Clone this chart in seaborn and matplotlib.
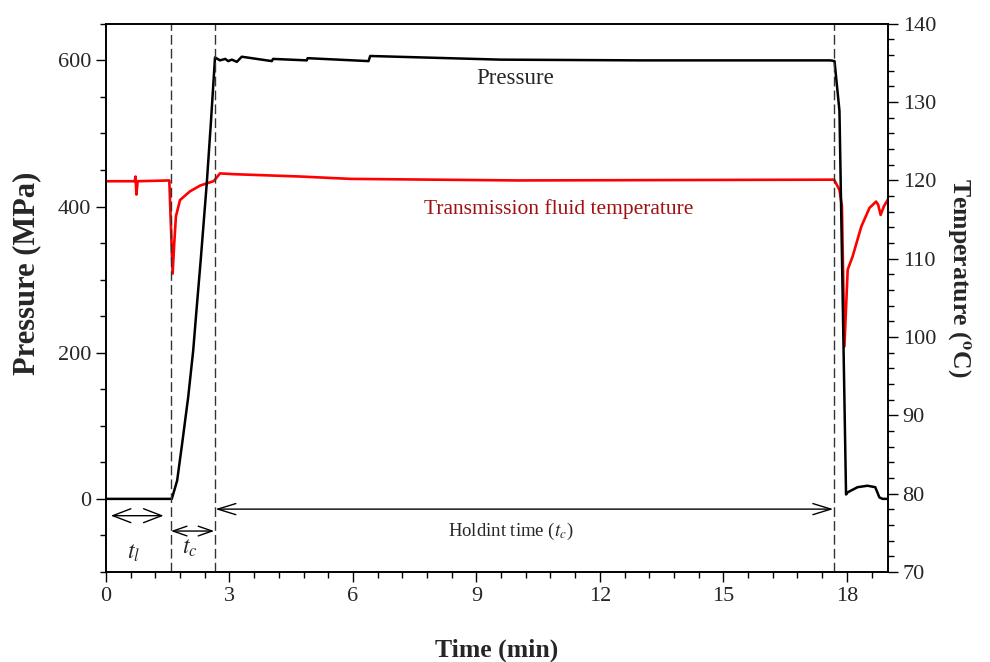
import matplotlib
matplotlib.use("Agg")
import matplotlib.pyplot as plt
from matplotlib.ticker import MultipleLocator
import pandas as pd
import seaborn as sns

# pressure trace (MPa) vs time (min)
p_time = [0.0, 1.60, 1.73, 1.85, 2.00, 2.12, 2.21, 2.30, 2.45, 2.55, 2.65,
          2.77, 2.90, 2.97, 3.06, 3.18, 3.30, 4.03, 4.06, 4.88, 4.90, 6.38, 6.42,
          9.59, 13.0, 17.60, 17.70, 17.82, 17.90, 17.98, 18.02, 18.26, 18.50,
          18.69, 18.79, 18.87, 19.0]
pressure = [0, 0, 25, 75, 140, 203, 265, 325, 432, 515, 604,
            600, 602, 599, 601, 598, 605, 599, 602, 600, 603, 599, 606,
            601, 600, 600, 599, 531, 270, 6, 9, 16, 18,
            16, 2, 0, 0]

# transmission fluid temperature (C) vs time (min)
t_time = [0.0, 0.70, 0.72, 0.74, 0.77, 1.54, 1.58, 1.62, 1.66, 1.70, 1.80, 2.04,
          2.29, 2.61, 2.65, 2.77, 3.10, 4.72, 5.94, 10.0, 17.69, 17.82, 17.88,
          17.94, 18.02, 18.14, 18.35, 18.55, 18.71, 18.76, 18.82, 18.90, 19.0]
temperature = [119.9, 119.9, 120.5, 118.2, 119.9, 120.0, 114.0, 108.1, 112.0,
               115.4, 117.5, 118.6, 119.35, 119.9, 120.1, 120.9, 120.8, 120.5,
               120.2, 120.0, 120.1, 118.8, 116.7, 98.8, 108.6, 110.3, 114.1,
               116.5, 117.3, 116.9, 115.6, 116.7, 117.6]

event_times = [1.58, 2.65, 17.69]

sns.set_style("ticks")
plt.rcParams["font.family"] = ["Liberation Serif", "DejaVu Serif"]
plt.rcParams["mathtext.fontset"] = "stix"

df_p = pd.DataFrame({"time": p_time, "pressure": pressure})
df_t = pd.DataFrame({"time": t_time, "temperature": temperature})

fig = plt.figure(figsize=(9.9, 6.62), dpi=100)
ax = fig.add_axes([0.107, 0.136, 0.790, 0.828])
ax2 = ax.twinx()
ax.set_zorder(ax2.get_zorder() + 1)
ax.patch.set_visible(False)

sns.lineplot(data=df_t, x="time", y="temperature", ax=ax2, color="red",
             lw=1.9, sort=False, estimator=None)
sns.lineplot(data=df_p, x="time", y="pressure", ax=ax, color="black",
             lw=1.8, sort=False, estimator=None)

for t in event_times:
    ax.axvline(t, color="#333333", lw=1, ls=(0, (7, 3)))

ax.set_xlim(0, 19)
ax.set_ylim(-100, 650)
ax2.set_ylim(70, 140)

ax.xaxis.set_major_locator(MultipleLocator(3))
ax.xaxis.set_minor_locator(MultipleLocator(0.6))
ax.yaxis.set_major_locator(MultipleLocator(200))
ax.yaxis.set_minor_locator(MultipleLocator(50))
ax2.yaxis.set_major_locator(MultipleLocator(10))
ax2.yaxis.set_minor_locator(MultipleLocator(2))

for a in (ax, ax2):
    a.tick_params(which="major", direction="out", length=7, width=1,
                  labelsize=16, color="black")
    a.tick_params(which="minor", direction="out", length=4, width=1,
                  color="black")
    for s in a.spines.values():
        s.set_linewidth(1.2)
        s.set_color("black")

ax.set_xlabel("Time (min)", fontsize=18.5, fontweight="bold", labelpad=24)
ax.set_ylabel("Pressure (MPa)", fontsize=22, fontweight="bold", va="center")
ax2.set_ylabel(r"Temperature ($\mathbf{^o}$C)", fontsize=18.5,
               fontweight="bold", rotation=270, va="center")
ax.yaxis.set_label_coords(-0.101, 0.544)
ax2.yaxis.set_label_coords(1.09, 0.536)

ax.text(9.95, 575, "Pressure", fontsize=16.5, ha="center", va="center")
ax.text(11.0, 397, "Transmission fluid temperature", fontsize=15.5,
        color="#a01010", ha="center", va="center")
ax.text(9.83, -45, r"Holdint time ($t_c$)", fontsize=13.5, ha="center",
        va="center")
ax.text(0.66, -75, r"$t_l$", fontsize=17, ha="center", va="center")
ax.text(2.04, -68, r"$t_c$", fontsize=17, ha="center", va="center")

ax.annotate("", xy=(0.12, -23), xytext=(1.40, -23),
            arrowprops=dict(arrowstyle="<->,head_length=1.3,head_width=0.5",
                            lw=1, color="black", shrinkA=0, shrinkB=0))
ax.annotate("", xy=(1.58, -44), xytext=(2.63, -44),
            arrowprops=dict(arrowstyle="<->,head_length=1.0,head_width=0.35",
                            lw=1, color="black", shrinkA=0, shrinkB=0))
ax.annotate("", xy=(2.66, -14), xytext=(17.67, -14),
            arrowprops=dict(arrowstyle="<->,head_length=1.3,head_width=0.4",
                            lw=1, color="black", shrinkA=0, shrinkB=0))

fig.savefig("out.png", dpi=100)
